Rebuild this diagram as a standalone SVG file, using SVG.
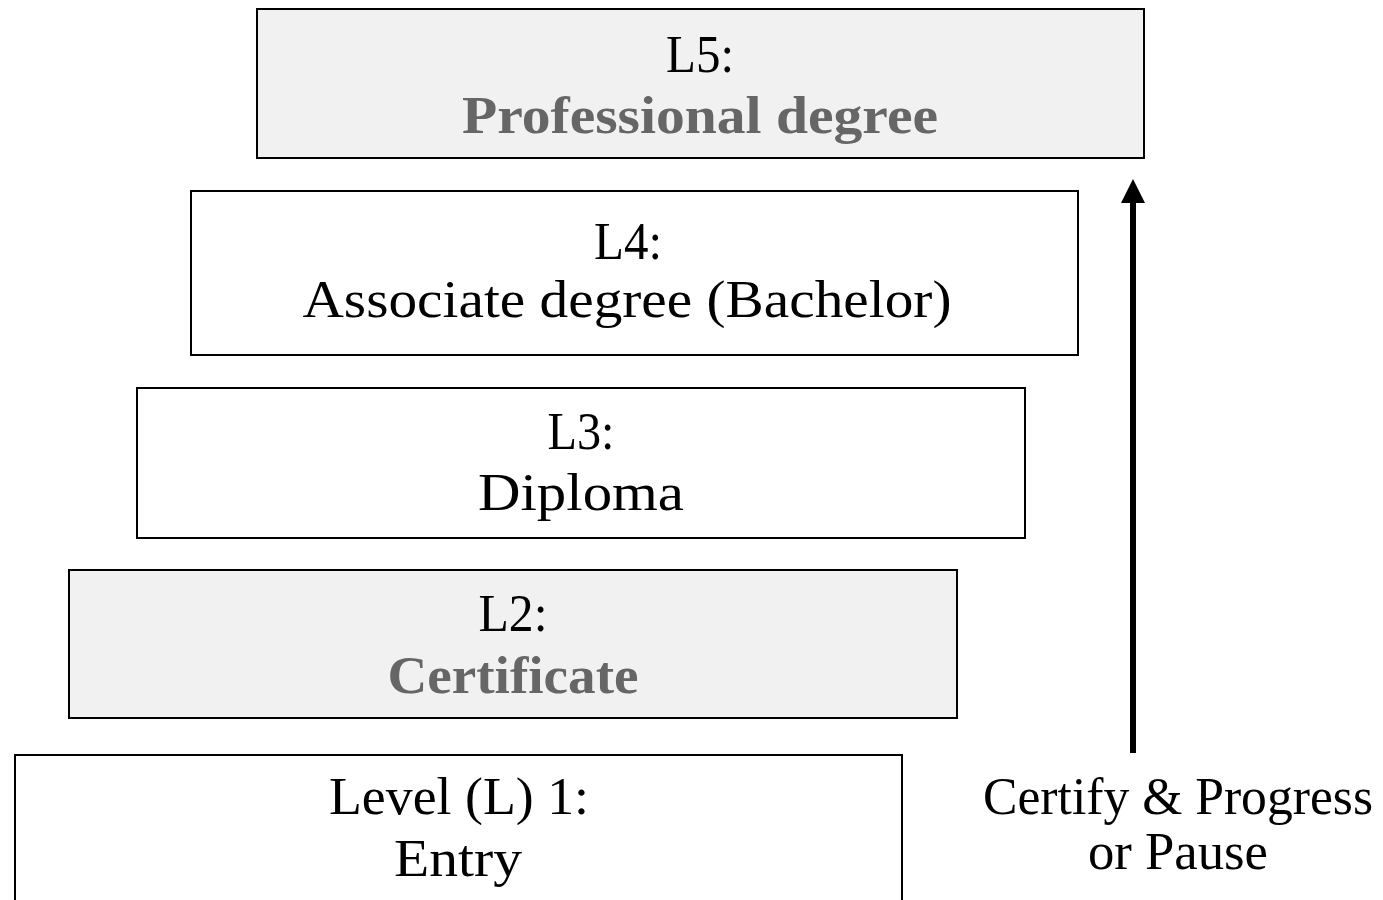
<svg xmlns="http://www.w3.org/2000/svg" width="1383" height="900" viewBox="0 0 1383 900">
<defs>
<style>
.box{stroke:#000;stroke-width:2}
.w{fill:#fff}
.g{fill:#f1f1f1}
text{font-family:"Liberation Serif","DejaVu Serif",serif;font-size:52px;text-anchor:middle;fill:#000}
.b{font-weight:bold;fill:#666}
</style>
<marker id="ah" markerWidth="4" markerHeight="4" refX="0" refY="2" orient="auto" markerUnits="strokeWidth">
<path d="M0,0 L4,2 L0,4 Z" fill="#000"/>
</marker>
</defs>
<rect width="1383" height="900" fill="#fff"/>
<g id="L5">
<rect class="box g" x="257" y="9" width="887" height="149"/>
<text x="700" y="72" textLength="68" lengthAdjust="spacingAndGlyphs">L5:</text>
<text class="b" x="700" y="133" textLength="476" lengthAdjust="spacingAndGlyphs">Professional degree</text>
</g>
<g id="L4">
<rect class="box w" x="191" y="191" width="887" height="164"/>
<text x="628" y="259" textLength="68" lengthAdjust="spacingAndGlyphs">L4:</text>
<text x="627" y="317" textLength="649" lengthAdjust="spacingAndGlyphs">Associate degree (Bachelor)</text>
</g>
<g id="L3">
<rect class="box w" x="137" y="388" width="888" height="150"/>
<text x="581" y="449" textLength="67" lengthAdjust="spacingAndGlyphs">L3:</text>
<text x="581" y="510" textLength="206" lengthAdjust="spacingAndGlyphs">Diploma</text>
</g>
<g id="L2">
<rect class="box g" x="69" y="570" width="888" height="148"/>
<text x="513" y="631" textLength="69" lengthAdjust="spacingAndGlyphs">L2:</text>
<text class="b" x="513" y="693" textLength="251" lengthAdjust="spacingAndGlyphs">Certificate</text>
</g>
<g id="L1">
<rect class="box w" x="15" y="755" width="887" height="160"/>
<text x="459" y="814" textLength="260" lengthAdjust="spacingAndGlyphs">Level (L) 1:</text>
<text x="458" y="876" textLength="128" lengthAdjust="spacingAndGlyphs">Entry</text>
</g>
<g id="connectors">
<line x1="1133" y1="753" x2="1133" y2="203" stroke="#000" stroke-width="6" marker-end="url(#ah)"/>
</g>
<g id="label">
<text x="1178" y="814" textLength="390" lengthAdjust="spacingAndGlyphs">Certify &amp; Progress</text>
<text x="1178" y="869" textLength="180" lengthAdjust="spacingAndGlyphs">or Pause</text>
</g>
</svg>
